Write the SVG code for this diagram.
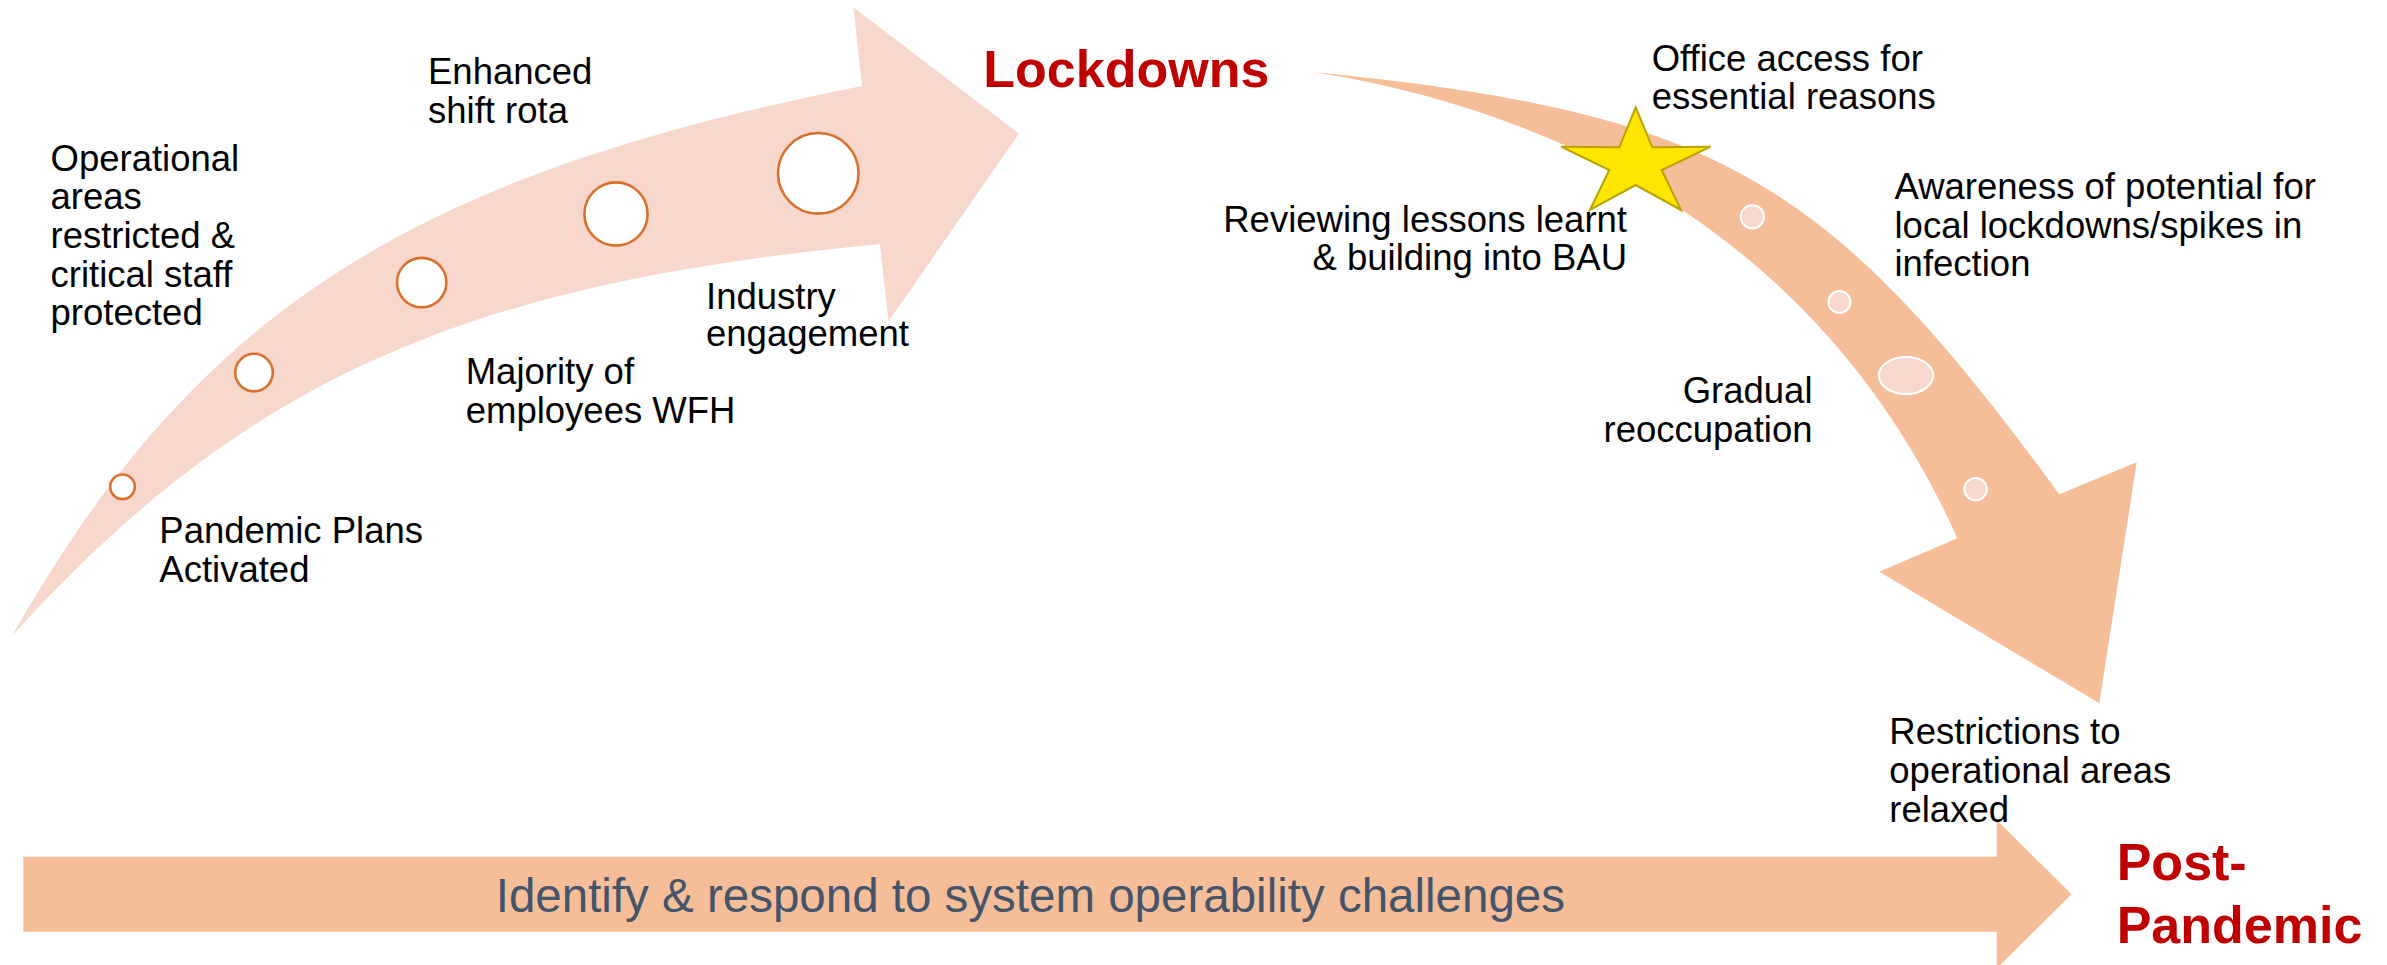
<svg xmlns="http://www.w3.org/2000/svg" width="2387" height="965" viewBox="0 0 2387 965">
<style>
  .lbl { font-family: "Liberation Sans", Arial, sans-serif; font-size: 36.5px; fill: #000000; }
  .end { text-anchor: end; }
  .phase { font-family: "Liberation Sans", Arial, sans-serif; font-size: 52px; font-weight: bold; fill: #C00000; }
  .bar-text { font-family: "Liberation Sans", Arial, sans-serif; font-size: 47.5px; fill: #44546A; }
  .ring { fill: #FFFFFF; stroke: #D9702C; stroke-width: 2.6; }
  .dot { fill: #F8D8CD; stroke: #FFFFFF; stroke-width: 2; }
  .pale { fill: #F8D8CD; }
  .peach { fill: #F5BE98; }
</style>
<rect x="0" y="0" width="2387" height="965" fill="#FFFFFF"/>

<g id="connectors">
  <path id="arrow-to-lockdowns" class="pale" d="M12,636 C195,313.5 407.5,176 862,86 L853.5,7.5 L1019,133.5 L888.5,321.5 L880,244 C476.9,282.7 250,372 12,636 Z"/>
  <path id="arrow-to-post-pandemic" class="peach" d="M1315,72.3 C1715,112.3 1826.7,175.5 2059.3,494.3 L2136.7,462.3 L2099.3,703.3 L1879.3,571.7 L1957.3,538.3 C1844.9,284.2 1620,121.1 1315,72.3 Z"/>
  <path id="arrow-operability" class="peach" d="M23.3,856.7 L1996.7,856.7 L1996.7,820 L2071.7,894.2 L1996.7,968.4 L1996.7,931.7 L23.3,931.7 Z"/>
</g>

<g id="node-pandemic-plans">
  <circle class="ring" cx="122.5" cy="486.8" r="12.3"/>
  <text class="lbl" x="159.3" y="542.7">Pandemic Plans</text>
  <text class="lbl" x="159.3" y="581.5">Activated</text>
</g>

<g id="node-operational-areas">
  <circle class="ring" cx="254" cy="372.6" r="18.8"/>
  <text class="lbl" x="50.5" y="170.5">Operational</text>
  <text class="lbl" x="50.5" y="209.2">areas</text>
  <text class="lbl" x="50.5" y="248">restricted &amp;</text>
  <text class="lbl" x="50.5" y="286.7">critical staff</text>
  <text class="lbl" x="50.5" y="325">protected</text>
</g>

<g id="node-majority-wfh">
  <circle class="ring" cx="421.7" cy="282.6" r="24.7"/>
  <text class="lbl" x="465.7" y="384">Majority of</text>
  <text class="lbl" x="465.7" y="423">employees WFH</text>
</g>

<g id="node-enhanced-shift">
  <circle class="ring" cx="616" cy="214" r="31.6"/>
  <text class="lbl" x="428" y="84">Enhanced</text>
  <text class="lbl" x="428" y="122.5">shift rota</text>
</g>

<g id="node-industry">
  <circle class="ring" cx="818.3" cy="173.3" r="40.3"/>
  <text class="lbl" x="706" y="308.5">Industry</text>
  <text class="lbl" x="706" y="346">engagement</text>
</g>

<g id="node-lockdowns">
  <text class="phase" x="983.3" y="87.3">Lockdowns</text>
</g>

<g id="node-office-access">
  <polygon points="1635.7,107.3 1652.3,147.3 1710.7,146.7 1661.7,170 1681,210 1635.7,185 1590,210 1609.3,170 1561,146.7 1619.3,147.3" fill="#FFE600" stroke="#B9A300" stroke-width="2"/>
  <text class="lbl" x="1651.7" y="70.7">Office access for</text>
  <text class="lbl" x="1651.7" y="109.3">essential reasons</text>
</g>

<g id="node-reviewing-lessons">
  <circle class="dot" cx="1752.4" cy="216.8" r="11.6"/>
  <text class="lbl end" x="1627" y="231.7">Reviewing lessons learnt</text>
  <text class="lbl end" x="1627" y="270">&amp; building into BAU</text>
</g>

<g id="node-awareness">
  <circle class="dot" cx="1839.4" cy="302" r="11"/>
  <text class="lbl" x="1894.5" y="198.7">Awareness of potential for</text>
  <text class="lbl" x="1894.5" y="237.5">local lockdowns/spikes in</text>
  <text class="lbl" x="1894.5" y="276">infection</text>
</g>

<g id="node-gradual-reoccupation">
  <ellipse class="dot" cx="1906" cy="375.6" rx="27.2" ry="18.5"/>
  <text class="lbl end" x="1812.5" y="402.7">Gradual</text>
  <text class="lbl end" x="1812.5" y="441.5">reoccupation</text>
</g>

<g id="node-restrictions-relaxed">
  <circle class="dot" cx="1975.6" cy="489.2" r="11.2"/>
  <text class="lbl" x="1889.3" y="744.3">Restrictions to</text>
  <text class="lbl" x="1889.3" y="783">operational areas</text>
  <text class="lbl" x="1889.3" y="821.7">relaxed</text>
</g>

<g id="node-post-pandemic">
  <text class="phase" x="2116.7" y="880">Post-</text>
  <text class="phase" x="2116.7" y="943.3">Pandemic</text>
</g>

<g id="node-operability">
  <text class="bar-text" x="495.7" y="912.3">Identify &amp; respond to system operability challenges</text>
</g>
</svg>
